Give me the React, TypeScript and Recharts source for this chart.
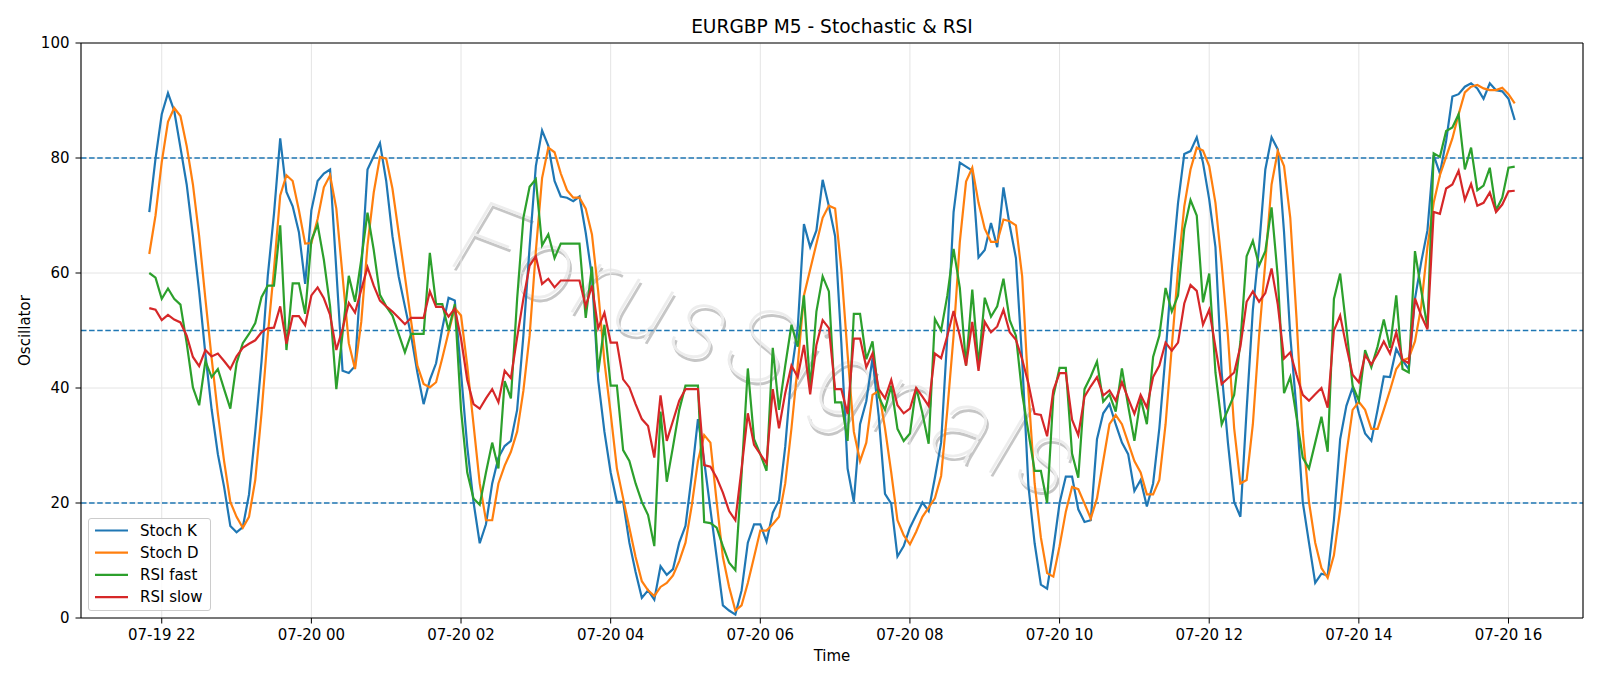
import { LineChart, Line, XAxis, YAxis, CartesianGrid, ReferenceLine } from 'recharts'

// EURGBP M5 oscillators: stochastic K/D and two RSI lengths, one value per 5-minute bar
// bar 0 = 07-19 21:50, last bar = 07-20 16:05

const TICK_IDX = [2, 26, 50, 74, 98, 122, 146, 170, 194, 218]
const TICK_LABELS = [
  '07-19 22', '07-20 00', '07-20 02', '07-20 04', '07-20 06',
  '07-20 08', '07-20 10', '07-20 12', '07-20 14', '07-20 16',
]

const stochK = [
  70.6, 79.9, 87.6, 91.3, 88.2, 81.8, 75.4, 66.4, 56.8, 45.9,
  36.3, 28.5, 22.8, 16.0, 14.9, 15.8, 21.5, 32.4, 44.6, 59.4,
  70.3, 83.4, 74.1, 71.6, 67.1, 58.1, 70.9, 76.0, 77.3, 78.0,
  60.5, 43.0, 42.6, 43.8, 60.5, 78.0, 80.3, 82.6, 76.0, 66.4,
  59.4, 54.2, 49.1, 42.7, 37.2, 41.4, 44.3, 50.4, 55.7, 55.2,
  42.7, 29.8, 20.2, 13.0, 16.3, 23.4, 27.9, 29.9, 30.8, 36.2,
  49.1, 64.5, 78.6, 84.8, 82.1, 76.0, 73.3, 73.1, 72.5, 73.3,
  67.0, 59.4, 41.4, 32.4, 25.3, 20.2, 20.2, 13.1, 8.0, 3.5,
  4.8, 3.2, 9.0, 7.5, 8.5, 13.1, 16.0, 24.7, 34.6, 27.3,
  18.9, 10.6, 2.2, 1.3, 0.6, 4.8, 13.1, 16.3, 16.3, 13.3,
  18.3, 20.5, 29.8, 42.7, 50.4, 68.5, 64.5, 67.4, 76.2, 71.6,
  66.4, 47.8, 26.0, 20.2, 33.7, 37.7, 45.2, 35.0, 21.6, 19.9,
  10.7, 12.5, 15.7, 17.9, 20.1, 18.6, 24.4, 30.5, 49.1, 70.6,
  79.2, 78.5, 77.8, 62.7, 64.0, 68.7, 64.5, 74.9, 68.3, 62.6,
  44.9, 23.0, 13.0, 5.8, 5.1, 12.0, 20.0, 24.6, 24.6, 18.9,
  16.7, 17.0, 31.1, 35.6, 37.2, 33.7, 30.5, 28.5, 22.1, 24.0,
  19.4, 23.4, 33.0, 45.9, 60.6, 72.2, 80.7, 81.2, 83.6, 79.2,
  72.8, 64.5, 42.7, 30.5, 20.2, 17.6, 36.2, 53.6, 64.5, 78.0,
  83.6, 81.5, 67.1, 49.1, 36.2, 20.2, 13.1, 6.1, 7.7, 7.4,
  17.0, 31.1, 36.9, 40.1, 35.6, 32.1, 30.8, 36.2, 42.0, 41.9,
  46.8, 44.8, 43.3, 55.5, 61.9, 67.4, 80.5, 77.3, 83.0, 90.7,
  91.1, 92.4, 93.0, 92.1, 90.3, 93.0, 91.8, 91.6, 90.3, 86.6,
]

const stochD = [
  63.3, 70.0, 79.3, 86.3, 88.7, 87.3, 82.1, 75.4, 66.4, 55.5,
  45.2, 35.6, 27.3, 20.2, 17.6, 15.7, 17.6, 24.0, 35.6, 49.1,
  60.6, 73.5, 77.0, 76.0, 70.9, 65.1, 65.2, 69.4, 74.9, 77.0,
  71.2, 59.5, 47.8, 43.3, 51.5, 64.8, 74.0, 80.2, 79.9, 74.7,
  67.0, 59.4, 51.6, 43.9, 40.7, 40.1, 41.0, 45.2, 49.7, 53.9,
  52.6, 43.9, 33.7, 23.4, 17.0, 17.0, 23.4, 26.5, 28.9, 32.4,
  39.5, 49.1, 63.8, 76.5, 81.8, 81.0, 77.3, 74.4, 73.1, 73.1,
  71.2, 66.7, 56.8, 44.6, 35.6, 26.0, 20.8, 15.7, 10.6, 6.4,
  4.8, 3.8, 5.4, 6.1, 7.4, 9.9, 13.1, 19.5, 27.3, 31.8,
  30.5, 20.2, 10.6, 5.4, 1.3, 2.2, 6.1, 10.6, 15.2, 15.2,
  16.3, 17.6, 23.4, 33.0, 43.9, 56.1, 60.6, 65.1, 69.6, 71.7,
  71.2, 60.6, 45.9, 32.4, 27.3, 30.5, 38.8, 39.5, 33.0, 25.3,
  17.0, 14.4, 12.8, 15.0, 17.6, 19.2, 20.8, 24.7, 36.2, 49.1,
  65.4, 75.9, 78.3, 72.2, 67.7, 65.4, 65.4, 69.3, 69.0, 68.3,
  59.4, 39.5, 23.4, 14.0, 7.8, 7.2, 12.5, 18.5, 22.8, 22.4,
  19.9, 17.3, 20.8, 27.3, 33.7, 35.3, 33.7, 30.5, 27.3, 25.3,
  21.5, 21.5, 24.0, 33.7, 47.2, 60.6, 71.6, 78.0, 81.8, 81.3,
  78.6, 72.2, 61.5, 49.1, 33.0, 23.4, 24.0, 33.7, 49.1, 61.9,
  75.4, 81.2, 78.6, 69.6, 52.2, 32.4, 20.2, 13.1, 8.7, 7.0,
  10.9, 18.9, 28.5, 36.2, 37.6, 36.2, 32.9, 32.9, 36.2, 39.6,
  43.3, 44.8, 45.2, 48.1, 54.2, 64.5, 72.2, 77.0, 80.2, 83.4,
  87.6, 91.4, 92.4, 92.7, 92.1, 91.8, 91.8, 92.2, 91.1, 89.5,
]

const rsiFast = [
  60.0, 59.2, 55.5, 57.3, 55.5, 54.5, 47.8, 40.1, 37.0, 44.7,
  41.9, 43.3, 39.8, 36.4, 44.3, 47.8, 49.4, 51.3, 55.8, 57.8,
  57.8, 68.3, 46.6, 58.2, 58.2, 52.9, 65.7, 68.4, 62.3, 54.2,
  39.8, 49.5, 59.5, 55.0, 62.3, 70.5, 64.0, 56.2, 54.2, 52.6,
  49.4, 46.2, 49.4, 49.4, 49.4, 63.5, 54.6, 54.6, 50.0, 54.6,
  36.2, 25.3, 20.8, 19.7, 25.3, 30.5, 26.0, 41.2, 38.2, 55.5,
  69.6, 75.0, 76.3, 64.8, 66.7, 62.6, 65.1, 65.1, 65.1, 65.1,
  52.2, 61.1, 42.7, 51.0, 40.4, 40.4, 29.2, 27.3, 23.4, 20.2,
  17.9, 12.5, 35.9, 23.7, 29.8, 36.2, 40.4, 40.4, 40.4, 16.7,
  16.5, 15.7, 12.5, 9.6, 8.3, 25.0, 43.4, 31.1, 28.5, 25.6,
  47.0, 36.2, 43.9, 51.0, 47.2, 56.1, 40.0, 53.3, 59.4, 56.8,
  37.5, 37.5, 30.8, 52.9, 52.9, 45.0, 48.1, 38.5, 36.2, 40.4,
  32.9, 30.8, 32.1, 40.1, 35.6, 30.3, 52.0, 50.0, 56.1, 64.2,
  57.4, 43.9, 57.1, 43.9, 55.7, 52.4, 54.2, 59.0, 51.8, 49.1,
  39.0, 32.3, 25.6, 25.6, 20.0, 38.6, 43.5, 43.5, 28.6, 24.4,
  39.8, 42.0, 44.6, 37.6, 38.9, 35.9, 43.4, 36.9, 30.8, 38.2,
  33.7, 45.4, 49.1, 57.4, 53.3, 56.1, 67.7, 72.7, 70.0, 54.9,
  59.9, 42.7, 33.7, 36.2, 38.8, 48.0, 62.9, 65.6, 61.3, 63.8,
  71.4, 59.3, 39.1, 41.9, 35.0, 27.9, 26.0, 30.5, 35.0, 28.9,
  55.5, 59.9, 50.4, 40.4, 37.8, 46.6, 43.6, 47.2, 51.9, 47.0,
  56.1, 43.3, 42.7, 63.8, 57.0, 50.5, 80.8, 80.2, 84.7, 85.3,
  87.6, 78.0, 81.8, 74.4, 75.2, 78.3, 70.9, 73.1, 78.3, 78.5,
]

const rsiSlow = [
  53.9, 53.6, 51.8, 52.7, 51.9, 51.4, 49.1, 45.4, 43.8, 46.6,
  45.5, 46.0, 44.7, 43.3, 45.5, 47.0, 47.7, 48.3, 49.7, 50.4,
  50.5, 54.2, 47.7, 52.5, 52.5, 50.9, 56.1, 57.5, 55.6, 52.7,
  46.6, 50.3, 54.8, 53.1, 57.1, 61.0, 57.8, 55.2, 54.2, 53.3,
  52.2, 51.1, 52.2, 52.2, 52.2, 56.8, 54.1, 54.1, 52.4, 53.8,
  48.6, 41.4, 37.2, 36.4, 38.2, 39.8, 37.5, 43.0, 41.7, 48.8,
  55.5, 61.3, 62.9, 58.1, 59.0, 57.5, 58.7, 58.7, 58.7, 58.7,
  54.2, 57.8, 50.4, 53.1, 47.9, 47.9, 41.5, 40.1, 37.2, 34.6,
  33.4, 27.9, 38.7, 30.8, 34.3, 37.8, 39.8, 39.8, 39.8, 26.6,
  26.3, 24.4, 21.8, 18.6, 17.0, 26.0, 35.6, 30.1, 28.5, 26.9,
  39.8, 33.0, 39.1, 43.9, 41.9, 47.5, 38.9, 47.5, 51.8, 50.4,
  39.8, 39.8, 35.5, 48.6, 48.6, 43.6, 46.0, 39.8, 38.2, 41.4,
  37.0, 35.6, 36.4, 40.0, 38.5, 36.9, 46.0, 45.2, 49.1, 53.4,
  49.1, 43.9, 51.5, 43.0, 51.5, 49.7, 50.7, 53.6, 49.7, 48.4,
  45.0, 40.8, 35.5, 35.3, 31.6, 39.6, 42.6, 42.6, 34.5, 31.8,
  38.5, 40.3, 41.9, 38.7, 39.6, 37.8, 41.0, 38.2, 35.5, 38.8,
  36.6, 41.9, 43.9, 47.9, 46.5, 47.9, 54.7, 57.9, 56.9, 51.0,
  53.6, 47.1, 40.7, 41.7, 42.7, 47.2, 55.0, 56.8, 55.0, 56.5,
  60.8, 54.5, 45.1, 46.2, 42.3, 38.8, 37.8, 38.9, 40.0, 36.6,
  50.0, 52.6, 47.2, 42.3, 41.0, 45.7, 44.1, 45.9, 48.1, 46.0,
  49.7, 44.9, 44.3, 55.6, 52.6, 50.2, 70.6, 70.3, 74.7, 75.4,
  77.8, 72.7, 75.5, 71.7, 72.2, 74.0, 70.6, 71.9, 74.2, 74.3,
]

const LEVELS = [20, 50, 80]

const SERIES = [
  { key: 'k', name: 'Stoch K', color: '#1f77b4' },
  { key: 'd', name: 'Stoch D', color: '#ff7f0e' },
  { key: 'fast', name: 'RSI fast', color: '#2ca02c' },
  { key: 'slow', name: 'RSI slow', color: '#d62728' },
]

const data = stochK.map((k, i) => ({
  i,
  k,
  d: stochD[i],
  fast: rsiFast[i],
  slow: rsiSlow[i],
}))

// 5% padding on both sides of the bar range
const PAD = (stochK.length - 1) * 0.05
const X_MIN = -PAD
const X_MAX = stochK.length - 1 + PAD

const FONT = '"DejaVu Sans", Verdana, sans-serif'
const W = 1600
const H = 686

const tickStyle = { fontSize: 15, fill: '#000', fontFamily: FONT }

function labelFor(v: number) {
  const idx = TICK_IDX.indexOf(v)
  return idx >= 0 ? TICK_LABELS[idx] : ''
}

// faint diagonal brand text behind the plot: thin light glyphs over a grey shadow
function Watermark() {
  return (
    <svg width={W} height={H} style={{ position: 'absolute', left: 0, top: 0 }}>
      <g
        transform="translate(770 350) rotate(21)"
        fontFamily='Roboto, "Open Sans", sans-serif'
        fontSize={104}
        fontWeight={100}
        fontStyle="italic"
        letterSpacing={8}
        textAnchor="middle"
        dominantBaseline="central"
      >
        <text x={3} y={3} fill="#b4b4b4" opacity={0.75}>
          ForusSignals
        </text>
        <text fill="#ededed">
          ForusSignals
        </text>
      </g>
    </svg>
  )
}

function Legend() {
  return (
    <div
      style={{
        position: 'absolute',
        left: 88,
        top: 518,
        width: 123,
        height: 93,
        boxSizing: 'border-box',
        border: '1px solid #cccccc',
        borderRadius: 3,
        background: 'rgba(255,255,255,0.8)',
        fontFamily: FONT,
        fontSize: 15,
        color: '#000',
      }}
    >
      <svg width={121} height={91} style={{ position: 'absolute', left: 0, top: 0 }}>
        {SERIES.map((s, n) => (
          <line key={s.key} x1={6} x2={39} y1={11.5 + n * 22.2} y2={11.5 + n * 22.2} stroke={s.color} strokeWidth={2.2} />
        ))}
      </svg>
      {SERIES.map((s, n) => (
        <div
          key={s.key}
          style={{ position: 'absolute', left: 51, top: 0.5 + n * 22.2, lineHeight: '22px', whiteSpace: 'nowrap' }}
        >
          {s.name}
        </div>
      ))}
    </div>
  )
}

export default function App() {
  return (
    <div style={{ position: 'absolute', left: 0, top: 0, width: W, height: H, background: '#fff' }}>
      <Watermark />
      <div style={{ position: 'absolute', left: 0, top: 0 }}>
        <LineChart width={W} height={H} data={data} margin={{ top: 43, right: 17, bottom: 0, left: 0 }}>
          <CartesianGrid stroke="#e4e4e4" strokeWidth={1} />
          <XAxis
            type="number"
            dataKey="i"
            domain={[X_MIN, X_MAX]}
            ticks={TICK_IDX}
            interval={0}
            tickFormatter={labelFor}
            height={68}
            tick={tickStyle}
            tickSize={5.5}
            tickMargin={6}
            stroke="#000"
            axisLine={{ stroke: '#000', strokeWidth: 1.1 }}
            tickLine={{ stroke: '#000' }}
          />
          <YAxis
            type="number"
            domain={[0, 100]}
            ticks={[0, 20, 40, 60, 80, 100]}
            interval={0}
            width={81}
            tick={tickStyle}
            tickSize={5.5}
            tickMargin={6}
            axisLine={{ stroke: '#000', strokeWidth: 1.1 }}
            tickLine={{ stroke: '#000' }}
          />
          {LEVELS.map((lv) => (
            <ReferenceLine key={lv} y={lv} stroke="#1f77b4" strokeWidth={1.3} strokeDasharray="5.5 2.6" />
          ))}
          {SERIES.map((s) => (
            <Line
              key={s.key}
              type="linear"
              dataKey={s.key}
              name={s.name}
              stroke={s.color}
              strokeWidth={2.2}
              dot={false}
              activeDot={false}
              isAnimationActive={false}
            />
          ))}
          <ReferenceLine y={100} stroke="#000" strokeWidth={1.1} />
          <ReferenceLine x={X_MAX} stroke="#000" strokeWidth={1.1} />
        </LineChart>
      </div>
      <svg width={W} height={H} style={{ position: 'absolute', left: 0, top: 0, pointerEvents: 'none' }} fontFamily={FONT}>
        <text x={832} y={26.5} textAnchor="middle" dominantBaseline="central" fontSize={18.6} fill="#000">
          EURGBP M5 - Stochastic &amp; RSI
        </text>
        <text x={832} y={656} textAnchor="middle" dominantBaseline="central" fontSize={15} fill="#000">
          Time
        </text>
        <text
          x={25.5}
          y={330.6}
          textAnchor="middle"
          dominantBaseline="central"
          fontSize={15}
          fill="#000"
          transform="rotate(-90 25.5 330.6)"
        >
          Oscillator
        </text>
      </svg>
      <Legend />
    </div>
  )
}
